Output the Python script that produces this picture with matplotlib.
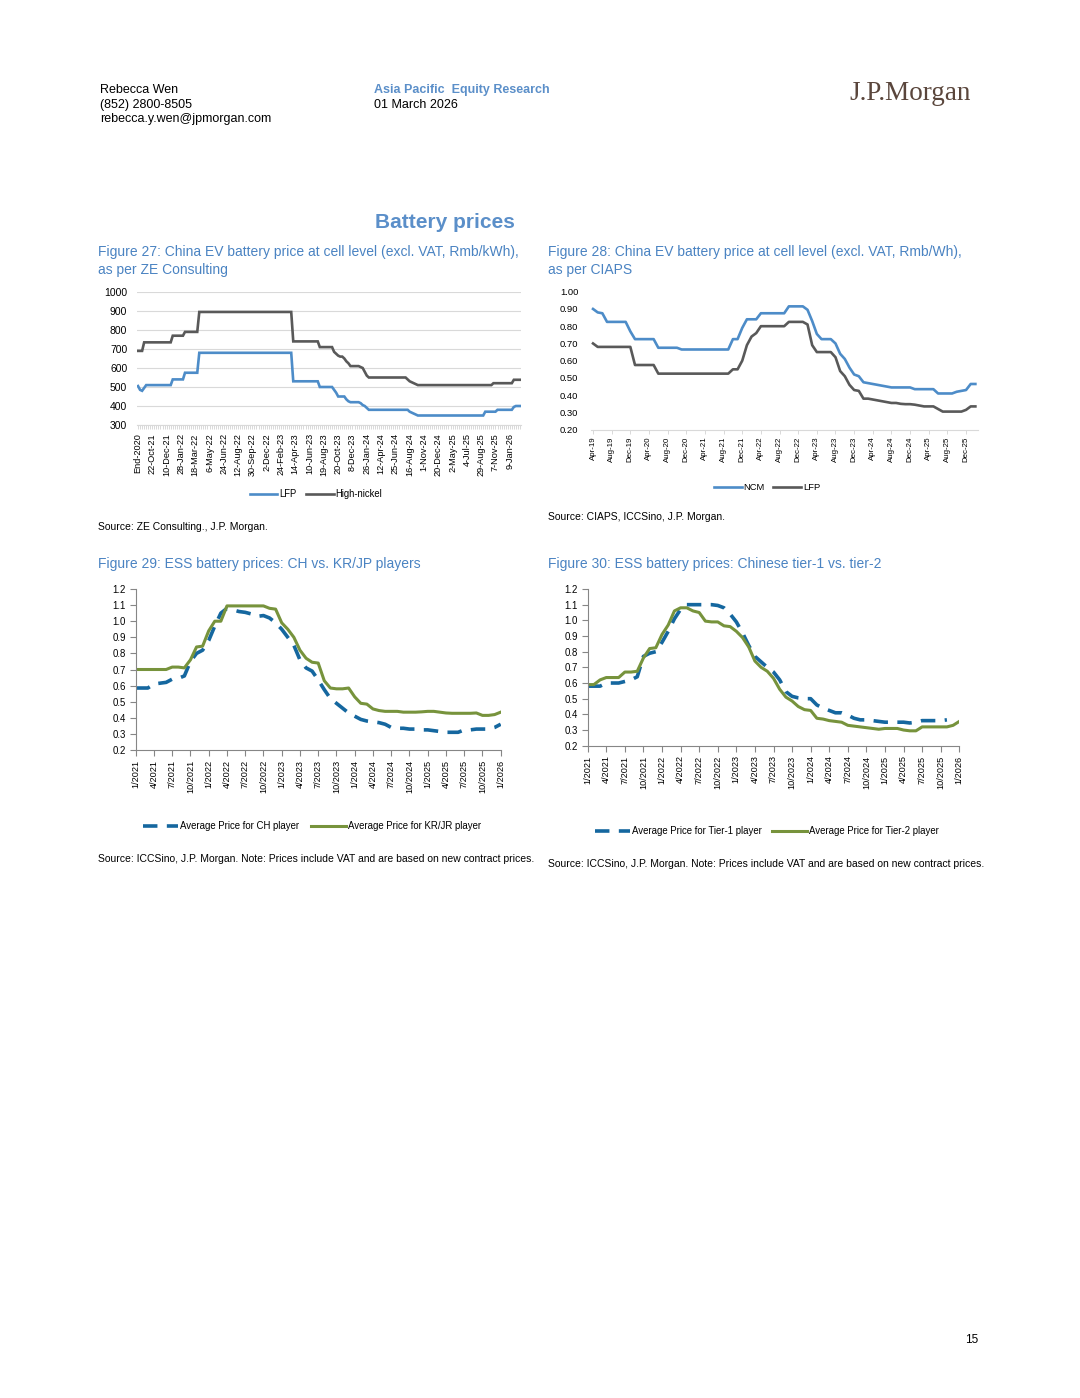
import numpy as np
import matplotlib
matplotlib.use("Agg")
import matplotlib.pyplot as plt
from matplotlib import font_manager
from matplotlib.lines import Line2D
from matplotlib.ticker import FormatStrFormatter

# ---- data: figure 27 (ZE Consulting, Rmb/kWh, weekly points) ----
ze_labels = ["End-2020", "22-Oct-21", "10-Dec-21", "28-Jan-22", "18-Mar-22", "6-May-22",
             "24-Jun-22", "12-Aug-22", "30-Sep-22", "2-Dec-22", "24-Feb-23", "14-Apr-23",
             "10-Jun-23", "19-Aug-23", "20-Oct-23", "8-Dec-23", "26-Jan-24", "12-Apr-24",
             "25-Jun-24", "16-Aug-24", "1-Nov-24", "20-Dec-24", "2-May-25", "4-Jul-25",
             "29-Aug-25", "7-Nov-25", "9-Jan-26"]
ze_lfp = ([505, 485, 480, 495] + [510] * 13 + [540] * 6 + [575] * 7 + [680] * 46
          + [530] * 13 + [500] * 7 + [485, 470] + [450] * 4 + [435, 425] + [420] * 5
          + [415, 405, 400, 390] + [380] * 20 + [370, 365, 360, 355] + [350] * 33
          + [370] * 6 + [380] * 8 + [395] + [400] * 3)
ze_hn = ([690] * 3 + [735] * 14 + [770] * 6 + [790] * 7 + [895] * 46 + [740] * 13
         + [710] * 7 + [685, 675, 665, 660, 660, 650, 635, 625] + [610] * 5
         + [605, 600, 580, 560] + [550] * 19 + [540, 530, 525, 520, 515] + [510] * 37
         + [520] * 10 + [538] * 4)

# ---- data: figure 28 (CIAPS, Rmb/Wh, monthly Apr-19 .. Feb-26) ----
ciaps_labels = ["Apr-19", "Aug-19", "Dec-19", "Apr-20", "Aug-20", "Dec-20", "Apr-21",
                "Aug-21", "Dec-21", "Apr-22", "Aug-22", "Dec-22", "Apr-23", "Aug-23",
                "Dec-23", "Apr-24", "Aug-24", "Dec-24", "Apr-25", "Aug-25", "Dec-25"]
ciaps_ncm = ([0.90, 0.88, 0.875] + [0.825] * 5 + [0.77] + [0.725] * 5 + [0.675] * 5
             + [0.665] * 11 + [0.725] * 2 + [0.79] + [0.84] * 3 + [0.875] * 6 + [0.915] * 4
             + [0.895, 0.83, 0.755] + [0.725] * 3
             + [0.70, 0.64, 0.61, 0.56, 0.52, 0.51, 0.475, 0.47, 0.465, 0.46, 0.455, 0.45]
             + [0.445] * 5 + [0.435] * 5 + [0.41] * 4 + [0.42, 0.425, 0.43] + [0.465] * 2)
ciaps_lfp = ([0.70] + [0.68] * 8 + [0.575] * 5 + [0.525] * 16
             + [0.55, 0.55, 0.60, 0.69, 0.74, 0.76] + [0.80] * 6 + [0.825] * 4 + [0.81, 0.69]
             + [0.65] * 4
             + [0.62, 0.54, 0.51, 0.46, 0.43, 0.425, 0.38, 0.38, 0.375, 0.37, 0.365, 0.36,
                0.355, 0.355, 0.35, 0.348, 0.348, 0.345, 0.34]
             + [0.335] * 3 + [0.32] + [0.305] * 5 + [0.315] + [0.335] * 2)

# ---- data: figures 29/30 (ICCSino, monthly 1/2021 .. 1/2026) ----
ess_labels = ["1/2021", "4/2021", "7/2021", "10/2021", "1/2022", "4/2022", "7/2022",
              "10/2022", "1/2023", "4/2023", "7/2023", "10/2023", "1/2024", "4/2024",
              "7/2024", "10/2024", "1/2025", "4/2025", "7/2025", "10/2025", "1/2026"]
ess_ch = [0.585, 0.585, 0.585, 0.61, 0.615, 0.62, 0.64, 0.645, 0.66, 0.75,
          0.80, 0.82, 0.88, 0.97, 1.05, 1.08, 1.07, 1.06, 1.055, 1.045,
          1.03, 1.035, 1.02, 0.99, 0.95, 0.90, 0.85, 0.76, 0.71, 0.69,
          0.635, 0.575, 0.52, 0.49, 0.46, 0.43, 0.41, 0.39, 0.38, 0.375,
          0.37, 0.36, 0.34, 0.335, 0.335, 0.33, 0.33, 0.325, 0.325, 0.32,
          0.315, 0.31, 0.31, 0.31, 0.325, 0.325, 0.33, 0.33, 0.33, 0.34, 0.36]
ess_krjp = [0.70, 0.70, 0.70, 0.70, 0.70, 0.70, 0.715, 0.715, 0.71, 0.76,
            0.84, 0.845, 0.94, 1.0, 1.0, 1.095, 1.095, 1.095, 1.095, 1.095,
            1.095, 1.095, 1.08, 1.075, 0.99, 0.95, 0.90, 0.82, 0.77, 0.745,
            0.74, 0.63, 0.585, 0.58, 0.58, 0.585, 0.53, 0.49, 0.485, 0.455,
            0.445, 0.44, 0.44, 0.44, 0.435, 0.435, 0.435, 0.437, 0.44, 0.44,
            0.435, 0.43, 0.428, 0.428, 0.428, 0.428, 0.43, 0.415, 0.415, 0.42, 0.435]
ess_tier1 = [0.58, 0.58, 0.58, 0.60, 0.60, 0.60, 0.61, 0.62, 0.64, 0.77,
             0.79, 0.80, 0.86, 0.93, 1.01, 1.07, 1.10, 1.10, 1.10, 1.10,
             1.10, 1.095, 1.08, 1.04, 0.99, 0.92, 0.84, 0.77, 0.735, 0.70,
             0.67, 0.62, 0.545, 0.515, 0.505, 0.50, 0.50, 0.46, 0.44, 0.425,
             0.41, 0.41, 0.395, 0.375, 0.365, 0.365, 0.36, 0.355, 0.35, 0.35,
             0.35, 0.35, 0.345, 0.35, 0.36, 0.36, 0.36, 0.36, 0.365, np.nan, np.nan]
ess_tier2 = [0.59, 0.59, 0.62, 0.635, 0.635, 0.635, 0.67, 0.67, 0.675, 0.76,
             0.82, 0.825, 0.91, 0.97, 1.06, 1.08, 1.08, 1.06, 1.05, 0.995,
             0.99, 0.99, 0.965, 0.96, 0.93, 0.89, 0.83, 0.74, 0.70, 0.675,
             0.63, 0.56, 0.51, 0.485, 0.45, 0.43, 0.425, 0.375, 0.37, 0.36,
             0.355, 0.35, 0.33, 0.325, 0.32, 0.315, 0.31, 0.305, 0.31, 0.31,
             0.31, 0.30, 0.295, 0.295, 0.32, 0.32, 0.32, 0.32, 0.32, 0.33, 0.355]

# ---- style ----
W, H = 1080, 1398
installed = {f.name for f in font_manager.fontManager.ttflist}
HAS_NARROW = "Liberation Sans Narrow" in installed
SANS = ["Liberation Sans", "DejaVu Sans"]
NARROW = ["Liberation Sans Narrow", "Liberation Sans", "DejaVu Sans"] if HAS_NARROW else SANS
SERIF = ["Liberation Serif", "DejaVu Serif"]


def nsize(s):
    # narrow font sizes, scaled down when only the regular width is available
    return s if HAS_NARROW else round(s * 0.84, 2)


TITLE_BLUE = "#4a83c2"
C_BLUE = "#4d8cc8"
C_GRAY = "#595959"
C_DBLUE = "#15679f"
C_GREEN = "#77933c"
AX_GRAY = "#868686"
LIGHT = "#d9d9d9"

fig = plt.figure(figsize=(W / 100, H / 100), dpi=100)
fig.patch.set_facecolor("white")


def rect(l, t, r, b):
    return [l / W, 1 - b / H, (r - l) / W, (b - t) / H]


def put(x, y, s, **kw):
    kw.setdefault("family", SANS)
    kw.setdefault("va", "center")
    return fig.text(x / W, 1 - y / H, s, **kw)


# header
put(100, 90, "Rebecca Wen", size=9)
put(100, 105, "(852) 2800-8505", size=9)
put(100, 119, "rebecca.y.wen@jpmorgan.com", size=9)
put(374, 90, "Asia Pacific  Equity Research", size=9, weight="bold", color="#5b8fc9")
put(374, 105, "01 March 2026", size=9)
put(971, 94, "J.P.Morgan", size=19.5, family=SERIF, color="#5a463c", ha="right")
put(445, 222, "Battery prices", size=15, weight="bold", color="#5b8fc9", ha="center")

# titles and sources
tsz = 11 if HAS_NARROW else 10
put(98, 252, "Figure 27: China EV battery price at cell level (excl. VAT, Rmb/kWh),",
    size=tsz, family=NARROW, color=TITLE_BLUE)
put(98, 270, "as per ZE Consulting", size=tsz, family=NARROW, color=TITLE_BLUE)
put(548, 252, "Figure 28: China EV battery price at cell level (excl. VAT, Rmb/Wh),",
    size=tsz, family=NARROW, color=TITLE_BLUE)
put(548, 270, "as per CIAPS", size=tsz, family=NARROW, color=TITLE_BLUE)
put(98, 564, "Figure 29: ESS battery prices: CH vs. KR/JP players",
    size=tsz, family=NARROW, color=TITLE_BLUE)
put(548, 564, "Figure 30: ESS battery prices: Chinese tier-1 vs. tier-2",
    size=tsz, family=NARROW, color=TITLE_BLUE)

ssz = 8.6 if HAS_NARROW else 7.45
note = "Source: ICCSino, J.P. Morgan. Note: Prices include VAT and are based on new contract prices."
put(98, 527, "Source: ZE Consulting., J.P. Morgan.", size=ssz, family=NARROW)
put(548, 517, "Source: CIAPS, ICCSino, J.P. Morgan.", size=ssz, family=NARROW)
put(98, 859, note, size=ssz, family=NARROW)
put(548, 864, note, size=ssz, family=NARROW)
put(972, 1340, "15", size=8.5, ha="center")


def legend_at(cx, cy, handles, labels, size, **kw):
    fig.legend(handles, labels, loc="center", bbox_to_anchor=(cx / W, 1 - cy / H),
               ncol=len(handles), frameon=False, prop={"family": NARROW, "size": size},
               handletextpad=0.2, **kw)


# ---- Figure 27 ----
ax = fig.add_axes(rect(137, 292, 521, 425))
x = np.arange(len(ze_lfp))
ax.plot(x, ze_lfp, color=C_BLUE, lw=1.9, solid_joinstyle="miter")
ax.plot(x, ze_hn, color=C_GRAY, lw=1.9, solid_joinstyle="miter")
ax.set_xlim(-0.5, len(ze_lfp) - 0.5)
ax.set_ylim(300, 1000)
ax.set_yticks(range(300, 1001, 100))
ax.grid(axis="y", color=LIGHT, lw=0.8)
ax.set_axisbelow(True)
for s in ["top", "right", "left"]:
    ax.spines[s].set_visible(False)
ax.spines["bottom"].set_color(LIGHT)
ax.set_xticks(np.arange(len(ze_labels)) * 7)
ax.set_xticklabels(ze_labels, rotation=90, family=NARROW, size=nsize(7.8))
ax.set_xticks(x, minor=True)
ax.tick_params(axis="x", which="both", color=LIGHT, length=3, width=0.7, pad=3)
ax.tick_params(axis="y", length=0, pad=7)
for t in ax.get_yticklabels():
    t.set_family(SANS)
    t.set_size(7.5)
legend_at(316, 494, [Line2D([], [], color=C_BLUE, lw=1.9), Line2D([], [], color=C_GRAY, lw=1.9)],
          ["LFP", "High-nickel"], nsize(8.2), handlelength=2.9, columnspacing=1.0)

# ---- Figure 28 ----
ax = fig.add_axes(rect(590.7, 291.7, 977.7, 429.7))
x = np.arange(len(ciaps_ncm))
ax.plot(x, ciaps_ncm, color=C_BLUE, lw=1.9)
ax.plot(x, ciaps_lfp, color=C_GRAY, lw=1.9)
ax.set_xlim(-0.5, len(ciaps_ncm) - 0.5)
ax.set_ylim(0.2, 1.0)
ax.set_yticks(np.arange(2, 11) / 10)
ax.yaxis.set_major_formatter(FormatStrFormatter("%.2f"))
for s in ["top", "right", "left"]:
    ax.spines[s].set_visible(False)
ax.spines["bottom"].set_color(LIGHT)
ax.set_xticks(np.arange(len(ciaps_labels)) * 4)
ax.set_xticklabels(ciaps_labels, rotation=90, family=NARROW, size=nsize(6.8))
ax.tick_params(axis="x", color=LIGHT, length=3, width=0.7, pad=2)
ax.tick_params(axis="y", length=0, pad=9)
for t in ax.get_yticklabels():
    t.set_family(SANS)
    t.set_size(6.8)
legend_at(767, 488, [Line2D([], [], color=C_BLUE, lw=1.9), Line2D([], [], color=C_GRAY, lw=1.9)],
          ["NCM", "LFP"], nsize(8), handlelength=3.0, columnspacing=0.9)


# ---- Figures 29 and 30 ----
def ess_axes(r, s1, s2):
    ax = fig.add_axes(r)
    x = np.arange(len(s1))
    ax.plot(x, s1, color=C_DBLUE, lw=2.6, ls=(0, (4, 2.6)), dash_capstyle="butt")
    ax.plot(x, s2, color=C_GREEN, lw=2.2)
    ax.set_xlim(0, len(s1) - 1)
    ax.set_ylim(0.2, 1.2)
    ax.set_yticks(np.arange(2, 13) / 10)
    ax.yaxis.set_major_formatter(FormatStrFormatter("%.1f"))
    for s in ["top", "right"]:
        ax.spines[s].set_visible(False)
    for s in ["left", "bottom"]:
        ax.spines[s].set_color(AX_GRAY)
        ax.spines[s].set_linewidth(0.8)
    ax.set_xticks(np.arange(len(ess_labels)) * 3)
    ax.set_xticklabels(ess_labels, rotation=90, family=NARROW, size=nsize(7.8))
    ax.tick_params(axis="both", color=AX_GRAY, length=4, width=0.8)
    ax.tick_params(axis="x", pad=3)
    ax.tick_params(axis="y", pad=3)
    for t in ax.get_yticklabels():
        t.set_family(NARROW)
        t.set_size(nsize(8.3))
    return ax


dash_h = Line2D([], [], color=C_DBLUE, lw=2.6, ls=(0, (4, 2.6)), dash_capstyle="butt")
green_h = Line2D([], [], color=C_GREEN, lw=2.2)

ess_axes(rect(135.7, 589, 500.7, 750), ess_ch, ess_krjp)
legend_at(312, 826, [dash_h, green_h],
          ["Average Price for CH player", "Average Price for KR/JR player"],
          nsize(8.3), handlelength=3.6, columnspacing=1.3)

ess_axes(rect(587.7, 589, 959.3, 745.7), ess_tier1, ess_tier2)
legend_at(767, 831, [dash_h, green_h],
          ["Average Price for Tier-1 player", "Average Price for Tier-2 player"],
          nsize(8.3), handlelength=3.6, columnspacing=1.1)

fig.savefig("out.png", dpi=100, facecolor="white")
